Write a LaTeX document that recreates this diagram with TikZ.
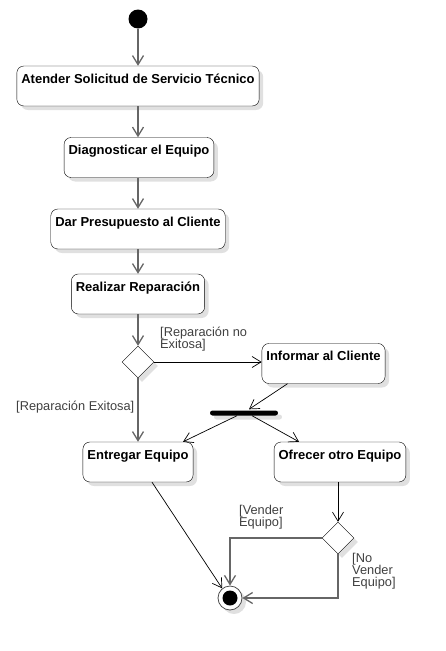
\documentclass[tikz,border=0pt]{standalone}
\usepackage{fontspec}
\setmainfont{Liberation Sans}
\usetikzlibrary{arrows.meta,shapes.geometric,shadows}
\tikzset{
  shade box/.style={drop shadow={shadow xshift=4pt,shadow yshift=-4pt,fill=black!12,opacity=1}},
  act/.style={draw,rounded corners=7pt,fill=white,shade box,font=\bfseries\fontsize{13}{15}\selectfont,
    inner xsep=4.5pt,inner ysep=3pt,text height=14pt,text depth=20pt},
  choice/.style={draw,diamond,aspect=1,minimum size=32pt,inner sep=0pt,fill=white,shade box},
  guard/.style={text=black!75,font=\fontsize{12.8}{12}\selectfont,align=left,inner sep=0pt},
  flow/.style={draw=black!60,line width=1.3pt,-{Straight Barb[length=9pt,width=11pt]}},
  thinflow/.style={draw=black,line width=0.7pt,-{Straight Barb[length=9pt,width=11pt]}}
}
\begin{document}
\begin{tikzpicture}[x=1pt,y=-1pt]
      \useasboundingbox (0,0) rectangle (445,651);
      \node[circle,fill=black,minimum size=19pt,inner sep=0pt] (start) at (138,19) {};
      \node[act] (atender) at (138,86) {Atender Solicitud de Servicio Técnico};
      \node[act] (diag) at (139,157.5) {Diagnosticar el Equipo};
      \node[act] (presup) at (138,229) {Dar Presupuesto al Cliente};
      \node[act] (realizar) at (138,294) {Realizar Reparación};
      \node[choice] (exito) at (138,362) {};
      \node[act] (informar) at (323.5,363.5) {Informar al Cliente};
      \node[fill=black,rounded corners=2.5pt,minimum width=68pt,minimum height=5pt,inner sep=0pt,shade box] (fork) at (244,413) {};
      \node[act] (entregar) at (138,462) {Entregar Equipo};
      \node[act] (ofrecer) at (340,462) {Ofrecer otro Equipo};
      \node[choice] (vender) at (338,538) {};
      \node[circle,draw=black!70,line width=0.8pt,fill=white,minimum size=24pt,inner sep=0pt,shade box,
        path picture={\fill[black] (path picture bounding box.center) circle (7.5pt);}] (final) at (230,598) {};
      \node[guard,anchor=north west] (noexito) at (160,327) {[Reparación no\\Exitosa]};
      \node[guard,anchor=west] (siexito) at (16,407) {[Reparación Exitosa]};
      \node[guard,anchor=north west] (sivende) at (239,505) {[Vender\\Equipo]};
      \node[guard,anchor=north west] (novende) at (352,553) {[No\\Vender\\Equipo]};
      \draw[flow] (start) -- (atender);
      \draw[flow] (atender) -- (atender.south |- diag.north);
      \draw[flow] (diag.south -| atender.south) -- (presup);
      \draw[flow] (presup) -- (realizar);
      \draw[flow] (realizar) -- (exito);
      \draw[thinflow] (exito.east) -- (exito.east -| informar.west);
      \draw[flow] (exito) -- (entregar);
      \draw[thinflow] ([xshift=-36pt]informar.south) -- ([xshift=5pt,yshift=1pt]fork.north);
      \draw[thinflow] ([xshift=-7pt]fork.south) -- ([xshift=45pt]entregar.north);
      \draw[thinflow] ([xshift=8pt]fork.south) -- ([xshift=-41pt]ofrecer.north);
      \draw[thinflow] (ofrecer.south -| vender.north) -- (vender.north);
      \draw[thinflow] ([xshift=14pt]entregar.south) -- (final.129);
      \draw[flow] (vender.west) -| (final.north);
      \draw[flow] (vender.south) |- (final.east);
    \end{tikzpicture}
\end{document}
